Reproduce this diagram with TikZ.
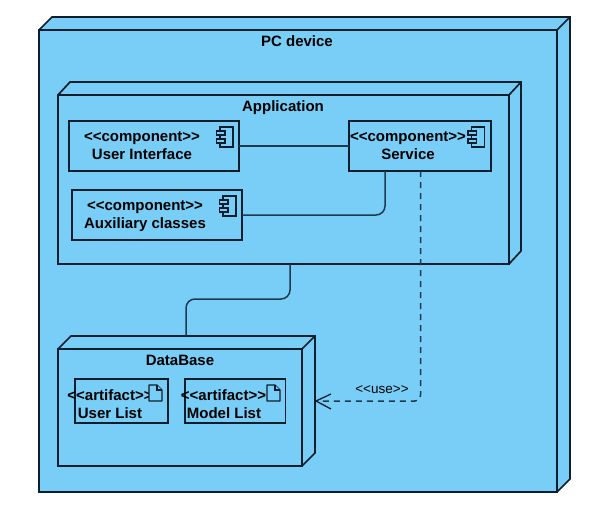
\documentclass[tikz,border=0pt]{standalone}
\usepackage{fontspec}
\setmainfont{Liberation Sans}
\usetikzlibrary{arrows.meta}
\definecolor{fillblue}{HTML}{78CEF6}
\definecolor{ink}{HTML}{0E1E2C}
\definecolor{conn}{HTML}{1F3A4F}
\tikzset{
  x=1pt,y=-1pt,
  edge3d/.style={draw=ink,line width=1.7pt,fill=fillblue,line join=miter},
  box/.style={draw=ink,line width=1.7pt,fill=fillblue,inner sep=0pt,outer sep=0pt,anchor=north west},
  icon/.style={draw=ink,line width=1.2pt,fill=fillblue},
  lab/.style={font=\fontsize{15}{17}\selectfont\bfseries,text=black,inner sep=0pt,anchor=base},
  conline/.style={draw=conn,line width=1.5pt,rounded corners=9pt},
  dashline/.style={draw=conn,line width=1.5pt,dash pattern=on 6pt off 5pt,rounded corners=6pt},
}
\newcommand{\stereo}[1]{<\kern0pt<#1>\kern0pt>}
\newcommand{\nodebox}[8]{% name, x1,y1,x2,y2, depth
  \fill[fillblue] (#2,#3) -- (#2+#6,#3-#7) -- (#4+#6,#3-#7) -- (#4+#6,#5-#7) -- (#4,#5) -- (#2,#5) -- cycle;
  \draw[edge3d] (#2,#3) -- (#2+#6,#3-#7) -- (#4+#6,#3-#7) -- (#4+#6,#5-#7) -- (#4,#5);
  \draw[edge3d] (#4,#3) -- (#4+#6,#3-#7);
  \node[box,minimum width=#4-#2,minimum height=#5-#3] (#1) at (#2,#3) {};
}
\newcommand{\compicon}[2]{%
  \draw[icon] (#1+3.5,#2) rectangle (#1+16.5,#2+20);
  \draw[icon] (#1,#2+4) rectangle (#1+8.5,#2+8);
  \draw[icon] (#1,#2+12) rectangle (#1+8.5,#2+16);
}
\newcommand{\docicon}[2]{%
  \draw[icon,line join=round] (#1,#2) -- (#1+8,#2) -- (#1+13,#2+5) -- (#1+13,#2+16) -- (#1,#2+16) -- cycle;
  \draw[icon] (#1+8,#2) -- (#1+8,#2+5) -- (#1+13,#2+5);
}
\begin{document}
\begin{tikzpicture}
\useasboundingbox (0,0) rectangle (598,523);
\fill[white] (0,0) rectangle (598,523);
% PC device
\nodebox{pc}{39}{30}{557}{492}{13}{13}{}
\node[lab] (pclabel) at (297,46) {PC device};
% Application
\nodebox{app}{58}{95}{509}{264}{12}{13}{}
\node[lab] (applabel) at (283,111) {Application};
% DataBase
\nodebox{db}{58}{349}{302}{466}{13}{13}{}
\node[lab] (dblabel) at (180,365) {DataBase};
% Components
\node[box,minimum width=170pt,minimum height=50pt] (ui) at (69,121) {};
\node[lab] (uistereo) at (142,141) {\stereo{component}};
\node[lab] (uiname) at (142,159) {User Interface};
\compicon{216.5}{127}
\node[box,minimum width=170pt,minimum height=50pt] (aux) at (72,190) {};
\node[lab] (auxstereo) at (145,210) {\stereo{component}};
\node[lab] (auxname) at (145,228) {Auxiliary classes};
\compicon{219.5}{196}
\node[box,minimum width=142pt,minimum height=50pt] (svc) at (349,121) {};
\node[lab] (svcstereo) at (408,141) {\stereo{component}};
\node[lab] (svcname) at (408,159) {Service};
\compicon{468}{127}
% Artifacts
\node[box,minimum width=93pt,minimum height=44pt] (ul) at (75,379) {};
\node[lab] (ulstereo) at (110,400) {\stereo{artifact}};
\node[lab] (ulname) at (110,418) {User List};
\docicon{149}{385}
\node[box,minimum width=100.5pt,minimum height=44pt] (ml) at (185,379) {};
\node[lab] (mlstereo) at (223.5,400) {\stereo{artifact}};
\node[lab] (mlname) at (224,418) {Model List};
\docicon{267}{385}
% Connectors
\draw[conline] (ui.east) -- (svc.west);
\draw[conline] (aux.east) -| ([xshift=-35pt]svc.south);
\draw[conline] ([xshift=6.5pt]app.south) -- ++(0,35) -| ([xshift=6pt,yshift=13pt]db.north);
\coordinate (dbport) at (316,401);
\draw[dashline] ([xshift=0.5pt]svc.south) |- (dbport);
\draw[draw=ink,line width=1.3pt] (331,394) -- (dbport) -- (331,409);
\node[font=\fontsize{13.5}{15}\selectfont,text=black,inner sep=0pt,anchor=base] (uselabel) at (382,393) {\stereo{use}};
\end{tikzpicture}
\end{document}
